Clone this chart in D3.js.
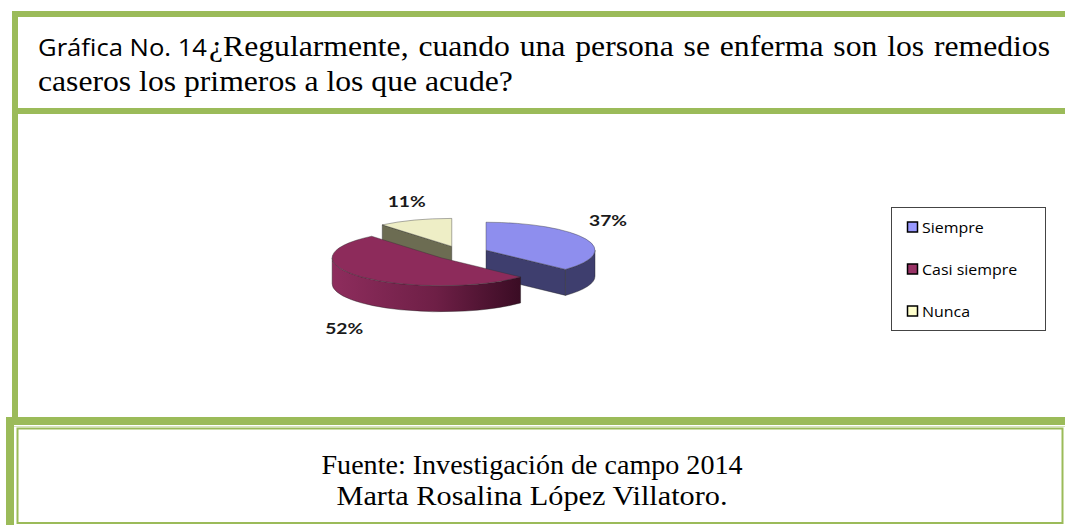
<!DOCTYPE html>
<html>
<head>
<meta charset="utf-8">
<script src="https://cdn.jsdelivr.net/npm/d3@7"></script>
<style>
  html, body { margin: 0; padding: 0; background: #fff; }
  svg { display: block; }
</style>
</head>
<body>
<div id="chart"></div>
<script>
// data
const categories = ["Siempre", "Casi siempre", "Nunca"];
const values = [37, 52, 11];
const titleLead = "Gráfica No. 14";
const titleLine1 = "¿Regularmente, cuando una persona se enferma son los remedios";
const titleLine2 = "caseros los primeros a los que acude?";
const sourceLines = ["Fuente: Investigación de campo 2014", "Marta Rosalina López Villatoro."];

const topColors = ["#8e8eee", "#8d2b5b", "#eeeec6"];
const sideColors = ["#3e3e6e", "url(#maroonSide)", "#6c6c52"];
const swatchColors = ["#9999ff", "#993366", "#ffffcc"];

const W = 1065, H = 525;
const green = "#9bbb59";

const svg = d3.select("#chart").append("svg")
  .attr("width", W)
  .attr("height", H);

const defs = svg.append("defs");
const grad = defs.append("linearGradient")
  .attr("id", "maroonSide")
  .attr("x1", "0").attr("x2", "1").attr("y1", "0").attr("y2", "0");
grad.append("stop").attr("offset", "0%").attr("stop-color", "#8e2d5d");
grad.append("stop").attr("offset", "55%").attr("stop-color", "#6e1f46");
grad.append("stop").attr("offset", "100%").attr("stop-color", "#3a0c24");

// Frame (green borders)
svg.append("rect").attr("x", 12).attr("y", 11).attr("width", W - 12).attr("height", 6).attr("fill", green);
svg.append("rect").attr("x", 12).attr("y", 11).attr("width", 6).attr("height", 406).attr("fill", green);
svg.append("rect").attr("x", 18).attr("y", 108).attr("width", W - 18).attr("height", 6).attr("fill", green);
svg.append("rect").attr("x", 6).attr("y", 417).attr("width", W - 6).attr("height", 8).attr("fill", green);
svg.append("rect").attr("x", 6).attr("y", 417).attr("width", 8).attr("height", H - 417).attr("fill", green);
svg.append("rect").attr("x", 17.5).attr("y", 428.5).attr("width", 1045).attr("height", 94.5)
  .attr("fill", "none").attr("stroke", green).attr("stroke-width", 2);
svg.append("line").attr("x1", 14).attr("x2", W).attr("y1", 426.5).attr("y2", 426.5)
  .attr("stroke", "#d7e4bd").attr("stroke-width", 1);

// Title
const serif = "'Liberation Serif', 'Times New Roman', serif";
svg.append("text")
  .attr("x", 38).attr("y", 56)
  .attr("font-family", "'Open Sans', sans-serif")
  .attr("font-size", 24)
  .attr("textLength", 169).attr("lengthAdjust", "spacingAndGlyphs")
  .attr("fill", "#000")
  .text(titleLead);

// second line sets the horizontal stretch of the serif face
const t2 = svg.append("text")
  .attr("font-family", serif)
  .attr("font-size", 29)
  .attr("fill", "#000")
  .text(titleLine2);
const k = 475 / t2.node().getComputedTextLength();
t2.attr("transform", `translate(38,91) scale(${k},1)`);

// first line: same stretch, justified to the right edge with word gaps
const t1 = svg.append("text")
  .attr("font-family", serif)
  .attr("font-size", 29)
  .attr("fill", "#000")
  .attr("transform", `translate(209,56) scale(${k},1)`)
  .text(titleLine1);
const len1 = t1.node().getComputedTextLength();
const gaps = titleLine1.split(" ").length - 1;
const extra = 841 / k - len1;
if (extra > 0) t1.attr("word-spacing", extra / gaps);
else t1.attr("textLength", 841 / k).attr("lengthAdjust", "spacingAndGlyphs");

// Footer
const srcY = d3.scalePoint().domain(sourceLines).range([474, 505]);
const srcW = [421, 391];
svg.append("g").selectAll("text")
  .data(sourceLines)
  .join("text")
  .attr("x", (d, i) => 532 - srcW[i] / 2)
  .attr("y", d => srcY(d))
  .attr("font-family", serif)
  .attr("font-size", 27)
  .attr("textLength", (d, i) => srcW[i]).attr("lengthAdjust", "spacingAndGlyphs")
  .attr("fill", "#000")
  .text(d => d);

// 3D pie
const cx = 461, cy = 253;
const rx = 109, ry = 28, depth = 26;
const explode = 0.25;

const pie = d3.pie().sort(null).value(d => d)(values);
const color = d3.scaleOrdinal(categories, topColors);
const side = d3.scaleOrdinal(categories, sideColors);

const pt = (ox, oy, a, dy = 0) => [ox + rx * Math.sin(a), oy - ry * Math.cos(a) + dy];

const slices = pie.map((p, i) => {
  const mid = (p.startAngle + p.endAngle) / 2;
  const ox = cx + explode * rx * Math.sin(mid);
  const oy = cy - explode * ry * Math.cos(mid);
  return { ...p, i, name: categories[i], mid, ox, oy };
}).sort((a, b) => (-Math.cos(a.mid)) - (-Math.cos(b.mid)));

const pieG = svg.append("g");

slices.forEach(s => {
  const g = pieG.append("g");
  const a0 = s.startAngle, a1 = s.endAngle;
  const apex = [s.ox, s.oy];

  // radial cut faces
  const face = a => {
    const r = pt(s.ox, s.oy, a);
    const p = d3.path();
    p.moveTo(apex[0], apex[1]);
    p.lineTo(r[0], r[1]);
    p.lineTo(r[0], r[1] + depth);
    p.lineTo(apex[0], apex[1] + depth);
    p.closePath();
    return p.toString();
  };
  const faceFill = s.i === 1 ? "#6e1f46" : side(s.name);
  if (Math.sin(a0) < -1e-6) {
    g.append("path").attr("d", face(a0)).attr("fill", faceFill)
      .attr("stroke", "#222").attr("stroke-width", 0.4);
  }
  if (Math.sin(a1) > 1e-6) {
    g.append("path").attr("d", face(a1)).attr("fill", faceFill)
      .attr("stroke", "#222").attr("stroke-width", 0.4);
  }

  // outer wall, front half only
  const b0 = Math.max(a0, Math.PI / 2), b1 = Math.min(a1, 3 * Math.PI / 2);
  if (b1 > b0) {
    const p0 = pt(s.ox, s.oy, b0), p1 = pt(s.ox, s.oy, b1);
    const large = (b1 - b0) > Math.PI ? 1 : 0;
    const d = `M${p0[0]},${p0[1]} A${rx},${ry} 0 ${large} 1 ${p1[0]},${p1[1]}` +
      ` L${p1[0]},${p1[1] + depth} A${rx},${ry} 0 ${large} 0 ${p0[0]},${p0[1] + depth} Z`;
    g.append("path").attr("d", d).attr("fill", side(s.name))
      .attr("stroke", "#222").attr("stroke-width", 0.4);
  }

  // top face
  const t0 = pt(s.ox, s.oy, a0), tEnd = pt(s.ox, s.oy, a1);
  const largeTop = (a1 - a0) > Math.PI ? 1 : 0;
  g.append("path")
    .attr("d", `M${apex[0]},${apex[1]} L${t0[0]},${t0[1]} A${rx},${ry} 0 ${largeTop} 1 ${tEnd[0]},${tEnd[1]} Z`)
    .attr("fill", color(s.name))
    .attr("stroke", "#333").attr("stroke-width", 0.4);
});

// percentage labels, just outside the rim at each slice's middle
pieG.append("g").selectAll("text")
  .data(slices)
  .join("text")
  .attr("x", s => pt(s.ox, s.oy, s.mid)[0] + 24 * Math.sin(s.mid))
  .attr("y", s => {
    const front = Math.cos(s.mid) < 0;
    return pt(s.ox, s.oy, s.mid)[1] + (front ? depth + 25 : -20);
  })
  .attr("text-anchor", "middle")
  .attr("dominant-baseline", "central")
  .attr("font-family", "Lato, 'Open Sans', sans-serif")
  .attr("font-weight", "bold")
  .attr("font-size", 16)
  .attr("fill", "#1a1a1a")
  .text(s => d3.format(".0f")(s.value) + "%")
  .each(function() {
    const n = this;
    d3.select(n).attr("textLength", n.getComputedTextLength() * 1.2).attr("lengthAdjust", "spacingAndGlyphs");
  });

// Legend
const lg = svg.append("g");
lg.append("rect").attr("x", 891.5).attr("y", 207.5).attr("width", 154).attr("height", 123)
  .attr("fill", "#fff").attr("stroke", "#444").attr("stroke-width", 1);
const ly = d3.scalePoint().domain(categories).range([227, 311]);
const item = lg.selectAll("g.item")
  .data(categories)
  .join("g")
  .attr("class", "item")
  .attr("transform", d => `translate(907,${ly(d)})`);
item.append("rect")
  .attr("x", 0.5).attr("y", -5).attr("width", 10).attr("height", 10)
  .attr("fill", (d, i) => swatchColors[i])
  .attr("stroke", "#000").attr("stroke-width", 1.5);
item.append("text")
  .attr("x", 15).attr("y", 0)
  .attr("dominant-baseline", "central")
  .attr("font-family", "'Open Sans', sans-serif")
  .attr("font-size", 14.5)
  .attr("fill", "#000")
  .text(d => d)
  .each(function() {
    const n = this;
    d3.select(n).attr("textLength", n.getComputedTextLength() * 1.1).attr("lengthAdjust", "spacingAndGlyphs");
  });
</script>
</body>
</html>
